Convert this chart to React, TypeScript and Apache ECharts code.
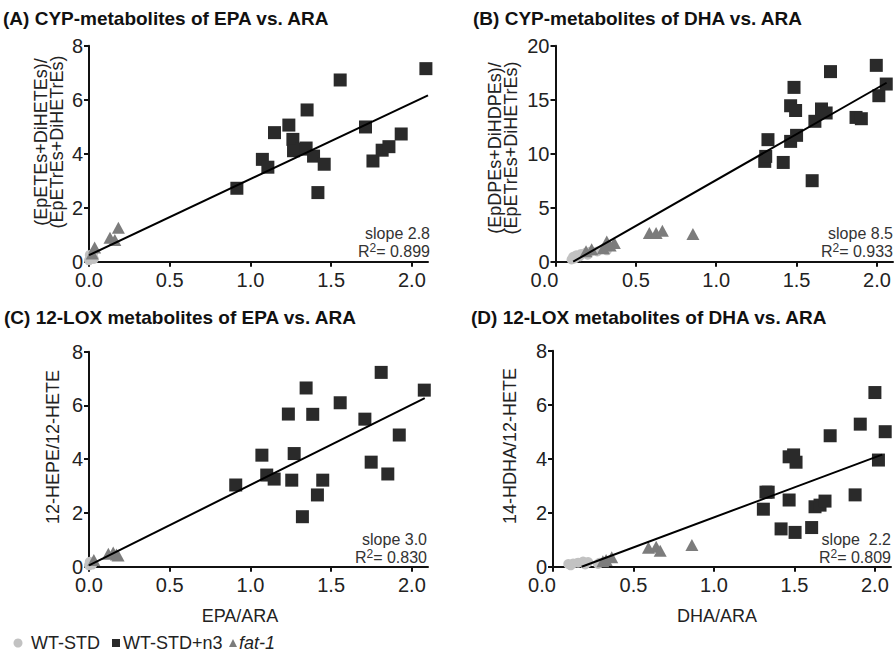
import React, { useEffect, useRef } from "react";
import * as echarts from "echarts";

// ---------- data ----------
const xTickValues = [0, 0.5, 1.0, 1.5, 2.0];
const yTicks8 = [0, 2, 4, 6, 8];
const yTicks20 = [0, 5, 10, 15, 20];

// (A) CYP metabolites of EPA vs ARA
const aStd = [[0.0, 0.05], [0.01, 0.12], [0.02, 0.2], [0.03, 0.1], [0.005, 0.25], [0.025, 0.3]];
const aN3 = [
  [0.916, 2.72], [1.074, 3.79], [1.108, 3.5], [1.149, 4.78], [1.238, 5.06], [1.263, 4.53],
  [1.267, 4.11], [1.319, 4.17], [1.345, 4.21], [1.556, 6.73], [1.351, 5.62], [1.391, 3.91],
  [1.418, 2.56], [1.457, 3.61], [1.713, 4.99], [1.759, 3.73], [1.816, 4.13], [1.858, 4.26],
  [1.934, 4.73], [2.087, 7.15],
];
const aFat = [[0.02, 0.3], [0.035, 0.53], [0.13, 0.89], [0.16, 0.8], [0.182, 1.26]];
const aFit = [[0, 0.24], [2.1, 6.16]];

// (B) CYP metabolites of DHA vs ARA
const bStd = [
  [0.1, 0.2], [0.11, 0.45], [0.13, 0.6], [0.16, 0.72], [0.19, 0.85], [0.22, 0.95],
  [0.12, 0.3], [0.15, 0.5], [0.2, 0.65], [0.26, 0.95], [0.3, 1.2], [0.32, 1.05],
];
const bN3 = [
  [1.302, 9.29], [1.308, 9.75], [1.322, 11.3], [1.417, 9.19], [1.463, 11.14], [1.463, 14.44],
  [1.484, 16.14], [1.494, 14.0], [1.5, 11.7], [1.597, 7.5], [1.614, 13.0], [1.655, 14.14],
  [1.684, 13.77], [1.711, 17.6], [1.87, 13.36], [1.903, 13.24], [1.996, 18.18], [2.012, 15.37],
  [2.058, 16.45],
];
const bFat = [
  [0.19, 0.97], [0.225, 1.16], [0.298, 1.25], [0.319, 1.87], [0.34, 1.5], [0.366, 1.72],
  [0.584, 2.66], [0.626, 2.66], [0.665, 2.87], [0.855, 2.56],
];
const bFit = [[0.11, 0], [2.06, 16.57]];

// (C) 12-LOX metabolites of EPA vs ARA
const cStd = [[0.0, 0.05], [0.01, 0.12], [0.02, 0.08], [0.005, 0.18]];
const cN3 = [
  [0.909, 3.04], [1.071, 4.15], [1.101, 3.41], [1.147, 3.26], [1.235, 5.68], [1.256, 3.22],
  [1.271, 4.21], [1.322, 1.86], [1.345, 6.65], [1.386, 5.67], [1.415, 2.67], [1.448, 3.22],
  [1.556, 6.1], [1.709, 5.49], [1.748, 3.89], [1.81, 7.23], [1.851, 3.45], [1.922, 4.9],
  [2.077, 6.57],
];
const cFat = [[0.03, 0.25], [0.12, 0.48], [0.15, 0.53], [0.17, 0.45], [0.18, 0.42]];
const cFit = [[0, 0.05], [2.08, 6.27]];

// (D) 12-LOX metabolites of DHA vs ARA
const dStd = [
  [0.095, 0.1], [0.125, 0.12], [0.156, 0.15], [0.187, 0.19], [0.218, 0.17], [0.28, 0.1],
  [0.29, 0.15], [0.11, 0.05], [0.2, 0.08],
];
const dN3 = [
  [1.307, 2.13], [1.323, 2.76], [1.337, 2.76], [1.417, 1.4], [1.467, 2.47], [1.467, 4.07],
  [1.495, 4.14], [1.504, 1.27], [1.51, 3.87], [1.607, 1.45], [1.628, 2.22], [1.659, 2.28],
  [1.69, 2.43], [1.722, 4.85], [1.877, 2.66], [1.909, 5.28], [2.0, 6.45], [2.022, 3.95],
  [2.064, 5.0],
];
const dFat = [
  [0.31, 0.2], [0.33, 0.25], [0.365, 0.35], [0.593, 0.7], [0.641, 0.74], [0.666, 0.59],
  [0.863, 0.8],
];
const dFit = [[0.178, 0], [2.045, 4.15]];

const titles = [
  "(A) CYP-metabolites of EPA vs. ARA",
  "(B) CYP-metabolites of DHA vs. ARA",
  "(C) 12-LOX metabolites of EPA vs. ARA",
  "(D) 12-LOX metabolites of DHA vs. ARA",
];
const yNames = [
  "(EpETEs+DiHETEs)/\n(EpETrEs+DiHETrEs)",
  "(EpDPEs+DiHDPEs)/\n(EpETrEs+DiHETrEs)",
  "12-HEPE/12-HETE",
  "14-HDHA/12-HETE",
];
const xNames = ["EPA/ARA", "DHA/ARA"];
const slopes = ["slope 2.8", "slope 8.5", "slope 3.0", "slope  2.2"];
const r2s = ["0.899", "0.933", "0.830", "0.809"];
const legendNames = ["WT-STD", "WT-STD+n3", "fat-1"];

// ---------- styling ----------
const FONT = "'Liberation Sans', Arial, sans-serif";
const C_STD = "#c2c2c2";
const C_N3 = "#2a2a2a";
const C_FAT = "#7c7c7c";
const TXT = "#222";

const panels = [
  { std: aStd, n3: aN3, fat: aFat, fit: aFit, yMax: 8, yInt: 2, yTicks: yTicks8,
    grid: { left: 89, top: 45.7, width: 339, height: 216 }, shiftZero: false },
  { std: bStd, n3: bN3, fat: bFat, fit: bFit, yMax: 20, yInt: 5, yTicks: yTicks20,
    grid: { left: 555.5, top: 45.7, width: 337.5, height: 216 }, shiftZero: true },
  { std: cStd, n3: cN3, fat: cFat, fit: cFit, yMax: 8, yInt: 2, yTicks: yTicks8,
    grid: { left: 89, top: 351.7, width: 339, height: 215 }, shiftZero: false },
  { std: dStd, n3: dN3, fat: dFat, fit: dFit, yMax: 8, yInt: 2, yTicks: yTicks8,
    grid: { left: 553, top: 350.7, width: 338, height: 216 }, shiftZero: true },
];

export default function App() {
  const ref = useRef<HTMLDivElement>(null);

  useEffect(() => {
    if (!ref.current) return;
    const chart = echarts.init(ref.current, undefined, { renderer: "svg" });

    const axisLine = { show: true, onZero: false, lineStyle: { color: "#111", width: 2 } };
    const axisTick = { show: true, inside: false, length: 5, lineStyle: { color: "#111", width: 2 } };

    const grids = panels.map((p) => p.grid);
    const xAxes = panels.map((p, i) => ({
      type: "value",
      gridIndex: i,
      min: 0,
      max: 2.1,
      interval: 0.5,
      splitLine: { show: false },
      axisLine,
      axisTick: { ...axisTick, customValues: xTickValues },
      axisLabel: {
        customValues: xTickValues,
        margin: 10,
        fontSize: 20,
        lineHeight: 16,
        fontFamily: FONT,
        color: TXT,
        formatter: (v: number) => (p.shiftZero && v === 0 ? "{z|0.0}" : v.toFixed(1)),
        rich: { z: { fontSize: 20, lineHeight: 16, fontFamily: FONT, color: TXT, padding: [0, 22, 0, 0] } },
      },
    }));
    const yAxes = panels.map((p, i) => ({
      type: "value",
      gridIndex: i,
      min: 0,
      max: p.yMax,
      interval: p.yInt,
      splitLine: { show: false },
      axisLine,
      axisTick: { ...axisTick, customValues: p.yTicks },
      axisLabel: {
        customValues: p.yTicks,
        margin: 6,
        fontSize: 20,
        lineHeight: 16,
        fontFamily: FONT,
        color: TXT,
      },
    }));

    const series: any[] = [];
    panels.forEach((p, i) => {
      series.push({
        type: "scatter", name: legendNames[0], xAxisIndex: i, yAxisIndex: i, clip: false,
        symbol: "circle", symbolSize: 10, itemStyle: { color: C_STD, opacity: 1 }, data: p.std, z: 2,
      });
      series.push({
        type: "scatter", name: legendNames[2], xAxisIndex: i, yAxisIndex: i, clip: false,
        symbol: "triangle", symbolSize: [13, 12], itemStyle: { color: C_FAT, opacity: 1 }, data: p.fat, z: 3,
      });
      series.push({
        type: "scatter", name: legendNames[1], xAxisIndex: i, yAxisIndex: i, clip: false,
        symbol: "rect", symbolSize: 13, itemStyle: { color: C_N3, opacity: 1 }, data: p.n3, z: 4,
      });
      series.push({
        type: "line", name: "fit", xAxisIndex: i, yAxisIndex: i, showSymbol: false, symbol: "none",
        lineStyle: { color: "#000", width: 2 }, data: p.fit, z: 5, silent: true,
      });
    });

    const titlePos = [
      [3, 18], [473, 18], [4, 317], [471, 317],
    ];
    const yNamePos = [
      [49, 142], [503, 148], [53, 447], [510, 446],
    ];
    const slopePos = [
      [430, 233], [893, 233], [427, 539], [891, 539],
    ];
    const graphic: any[] = [];
    titles.forEach((t, i) => {
      graphic.push({
        type: "text", x: titlePos[i][0], y: titlePos[i][1],
        style: { text: t, font: `bold 19px ${FONT}`, fill: "#111", align: "left", verticalAlign: "middle" },
      });
    });
    yNames.forEach((t, i) => {
      graphic.push({
        type: "text", x: yNamePos[i][0], y: yNamePos[i][1], rotation: Math.PI / 2,
        style: {
          text: t, font: `18px ${FONT}`, fill: TXT, align: "center", verticalAlign: "middle",
          lineHeight: 16,
        },
      });
    });
    slopes.forEach((t, i) => {
      graphic.push({
        type: "text", x: slopePos[i][0], y: slopePos[i][1],
        style: { text: t, font: `16px ${FONT}`, fill: "#333", align: "right", verticalAlign: "middle" },
      });
      graphic.push({
        type: "text", x: slopePos[i][0], y: slopePos[i][1] + 18,
        style: {
          text: `{r|R}{s|2}{r|= ${r2s[i]}}`,
          align: "right", verticalAlign: "middle",
          rich: {
            r: { fontSize: 16, fontFamily: FONT, fill: "#333", lineHeight: 18 },
            s: { fontSize: 12, fontFamily: FONT, fill: "#333", lineHeight: 12, verticalAlign: "top" },
          },
        },
      });
    });
    graphic.push({
      type: "text", x: 240, y: 616,
      style: { text: xNames[0], font: `18px ${FONT}`, fill: TXT, align: "center", verticalAlign: "middle" },
    });
    graphic.push({
      type: "text", x: 717, y: 616,
      style: { text: xNames[1], font: `18px ${FONT}`, fill: TXT, align: "center", verticalAlign: "middle" },
    });
    // legend
    const ly = 643;
    graphic.push({ type: "circle", shape: { cx: 18, cy: ly, r: 4.5 }, style: { fill: C_STD } });
    graphic.push({
      type: "text", x: 31, y: ly,
      style: { text: legendNames[0], font: `18px ${FONT}`, fill: TXT, align: "left", verticalAlign: "middle" },
    });
    graphic.push({ type: "rect", shape: { x: 112, y: ly - 4, width: 8, height: 8 }, style: { fill: C_N3 } });
    graphic.push({
      type: "text", x: 123, y: ly,
      style: { text: legendNames[1], font: `18px ${FONT}`, fill: TXT, align: "left", verticalAlign: "middle" },
    });
    graphic.push({
      type: "polygon", shape: { points: [[229, ly + 4], [237, ly + 4], [233, ly - 4]] }, style: { fill: C_FAT },
    });
    graphic.push({
      type: "text", x: 239, y: ly,
      style: { text: legendNames[2], font: `italic 18px ${FONT}`, fill: TXT, align: "left", verticalAlign: "middle" },
    });

    chart.setOption({
      animation: false,
      backgroundColor: "#fff",
      grid: grids,
      xAxis: xAxes,
      yAxis: yAxes,
      series,
      graphic,
    });

    return () => chart.dispose();
  }, []);

  return (
    <div
      ref={ref}
      style={{ position: "fixed", left: 0, top: 0, width: 896, height: 668 }}
    />
  );
}
